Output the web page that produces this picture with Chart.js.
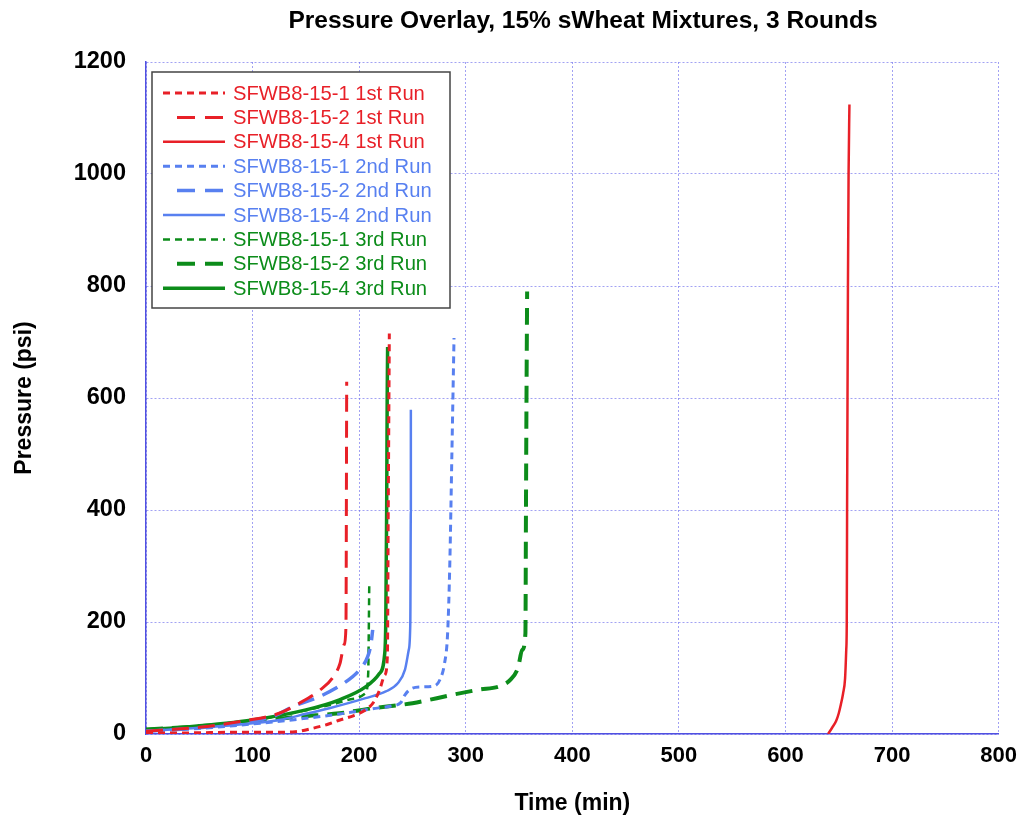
<!DOCTYPE html>
<html>
<head>
<meta charset="utf-8">
<script src="https://cdn.jsdelivr.net/npm/chart.js@4"></script>
<style>
  html, body { margin: 0; padding: 0; background: #fff; }
  #wrap { width: 1026px; height: 819px; }
</style>
</head>
<body>
<div id="wrap"><canvas id="myChart" width="1026" height="819"></canvas></div>
<script>
// values: time (min) and pressure (psi)
const r1Time = [0, 40, 80, 120, 140, 156, 170, 182, 195, 206, 214, 219, 224, 226.5, 227.3, 228.3];
const r1Psi  = [2, 2, 3, 3, 4, 10, 17, 25, 33, 43, 58, 78, 105, 140, 400, 715];
const r2Time = [0, 50, 97, 125, 144, 163, 175, 182, 186, 187.6, 188.3];
const r2Psi  = [5, 12, 25, 37, 55, 78, 100, 126, 160, 192, 629];
const r4Time = [640, 644, 647.5, 650, 652, 654, 655.9, 657, 657.5, 657.8, 658.2, 658.6, 659.2, 660];
const r4Psi  = [0, 12, 23, 37, 53, 72, 99, 150, 200, 400, 600, 800, 1000, 1124];

const b1Time = [0, 50, 100, 150, 190, 212, 230, 239, 243, 248, 258, 271, 276, 280, 283, 285, 287, 289];
const b1Psi  = [5, 10, 18, 28, 38, 45, 50, 56, 70, 80, 84, 86, 98, 125, 180, 300, 500, 707];
const b2Time = [0, 50, 97, 119, 138, 163, 185, 200, 208, 211, 212.7];
const b2Psi  = [5, 11, 22, 31, 49, 67, 90, 114, 138, 160, 186];
const b4Time = [0, 50, 100, 125, 150, 172, 206, 225, 236, 243, 246.5, 248, 248.5, 248.5];
const b4Psi  = [5, 11, 19, 25, 36, 46, 64, 76, 90, 115, 150, 200, 400, 579];

const g1Time = [0, 50, 100, 144, 175, 195, 206, 208.5, 209, 209.5];
const g1Psi  = [7, 13, 24, 40, 53, 63, 73, 109, 180, 272];
const g2Time = [0, 50, 100, 144, 181.5, 212.6, 250, 287.5, 312, 333, 342, 349, 353, 356, 356.5, 357, 357.6];
const g2Psi  = [8, 14, 22, 31, 37, 46, 55, 70, 79, 86, 97, 118, 150, 180, 400, 600, 790];
const g4Time = [0, 41, 100, 150, 181.5, 206, 219, 224, 225, 225.8, 226.3, 226.7];
const g4Psi  = [8, 13, 25, 43, 61, 84, 108, 144, 205, 400, 600, 691];

const seriesNames = [
  "SFWB8-15-1 1st Run", "SFWB8-15-2 1st Run", "SFWB8-15-4 1st Run",
  "SFWB8-15-1 2nd Run", "SFWB8-15-2 2nd Run", "SFWB8-15-4 2nd Run",
  "SFWB8-15-1 3rd Run", "SFWB8-15-2 3rd Run", "SFWB8-15-4 3rd Run"
];

const RED = "rgb(232,32,40)";
const BLUE = "rgb(88,128,240)";
const GREEN = "rgb(12,140,26)";
const DOT = [7, 5];
const DASH = [17, 9];

function pts(xs, ys) {
  return xs.map((x, i) => ({ x: x, y: ys[i] }));
}

function series(i, xs, ys, color, dash, width) {
  return {
    label: seriesNames[i],
    data: pts(xs, ys),
    borderColor: color,
    backgroundColor: color,
    borderDash: dash,
    borderWidth: width,
    pointRadius: 0,
    cubicInterpolationMode: "monotone",
    fill: false
  };
}

const datasets = [
  series(0, r1Time, r1Psi, RED, DOT, 3),
  series(1, r2Time, r2Psi, RED, DASH, 3),
  series(2, r4Time, r4Psi, RED, [], 2.5),
  series(3, b1Time, b1Psi, BLUE, DOT, 3),
  series(4, b2Time, b2Psi, BLUE, DASH, 3.5),
  series(5, b4Time, b4Psi, BLUE, [], 2.5),
  series(6, g1Time, g1Psi, GREEN, DOT, 2.5),
  series(7, g2Time, g2Psi, GREEN, DASH, 4),
  series(8, g4Time, g4Psi, GREEN, [], 3.5)
];

// boxed legend in the top-left of the plot, like the original
const boxLegend = {
  id: "boxLegend",
  afterDatasetsDraw(chart) {
    const ctx = chart.ctx;
    const left = 152, top = 72, w = 298, h = 236;
    ctx.save();
    ctx.fillStyle = "#fff";
    ctx.fillRect(left, top, w, h);
    ctx.strokeStyle = "#444";
    ctx.lineWidth = 1.5;
    ctx.setLineDash([]);
    ctx.strokeRect(left, top, w, h);
    ctx.font = "20.2px 'Liberation Sans', Arial, sans-serif";
    ctx.textBaseline = "middle";
    chart.data.datasets.forEach((ds, i) => {
      const y = 93 + i * 24.4;
      const isDash = ds.borderDash === DASH;
      ctx.beginPath();
      ctx.strokeStyle = ds.borderColor;
      ctx.lineWidth = ds.borderWidth;
      ctx.setLineDash(isDash ? [18, 10] : ds.borderDash);
      ctx.moveTo(isDash ? 177 : 163, y);
      ctx.lineTo(225, y);
      ctx.stroke();
      ctx.setLineDash([]);
      ctx.fillStyle = ds.borderColor;
      ctx.fillText(ds.label, 233, y + 1);
    });
    ctx.restore();
  },
  afterDraw(chart) {
    const ctx = chart.ctx;
    ctx.save();
    ctx.font = "bold 24.5px 'Liberation Sans', Arial, sans-serif";
    ctx.fillStyle = "#000";
    ctx.textAlign = "center";
    ctx.textBaseline = "middle";
    ctx.fillText("Pressure Overlay, 15% sWheat Mixtures, 3 Rounds", 583, 21);
    ctx.restore();
  }
};

const gridOpts = {
  color: "rgba(100,100,235,0.6)",
  lineWidth: 1,
  drawTicks: false
};
const tickFont = { family: "'Liberation Sans', Arial, sans-serif", size: 22, weight: "bold" };
const yTickFont = { family: "'Liberation Sans', Arial, sans-serif", size: 23.5, weight: "bold" };
const titleFont = { family: "'Liberation Sans', Arial, sans-serif", size: 23, weight: "bold" };

new Chart("myChart", {
  type: "line",
  data: { datasets: datasets },
  plugins: [boxLegend],
  options: {
    responsive: false,
    animation: false,
    layout: { padding: { top: 62, right: 25, left: 0, bottom: 0 } },
    plugins: {
      legend: { display: false },
      title: { display: false },
      tooltip: { enabled: false }
    },
    scales: {
      x: {
        type: "linear",
        min: 0,
        max: 800,
        grid: gridOpts,
        border: { color: "rgb(80,80,225)", width: 1.5, dash: [2, 2] },
        ticks: { stepSize: 100, color: "#000", font: tickFont, padding: 9, callback: (v) => String(v) },
        title: { display: true, text: "Time (min)", color: "#000", font: titleFont, padding: { top: 8, bottom: 2 } },
        afterFit(s) { s.height = 85; }
      },
      y: {
        type: "linear",
        min: 0,
        max: 1200,
        grid: gridOpts,
        border: { color: "rgb(80,80,225)", width: 1.5, dash: [2, 2] },
        ticks: { stepSize: 200, color: "#000", font: yTickFont, padding: 20, callback: (v) => String(v) },
        title: { display: true, text: "Pressure (psi)", color: "#000", font: titleFont, padding: { top: 11, bottom: 0 } },
        afterFit(s) { s.width = 146; }
      }
    }
  }
});
</script>
</body>
</html>
